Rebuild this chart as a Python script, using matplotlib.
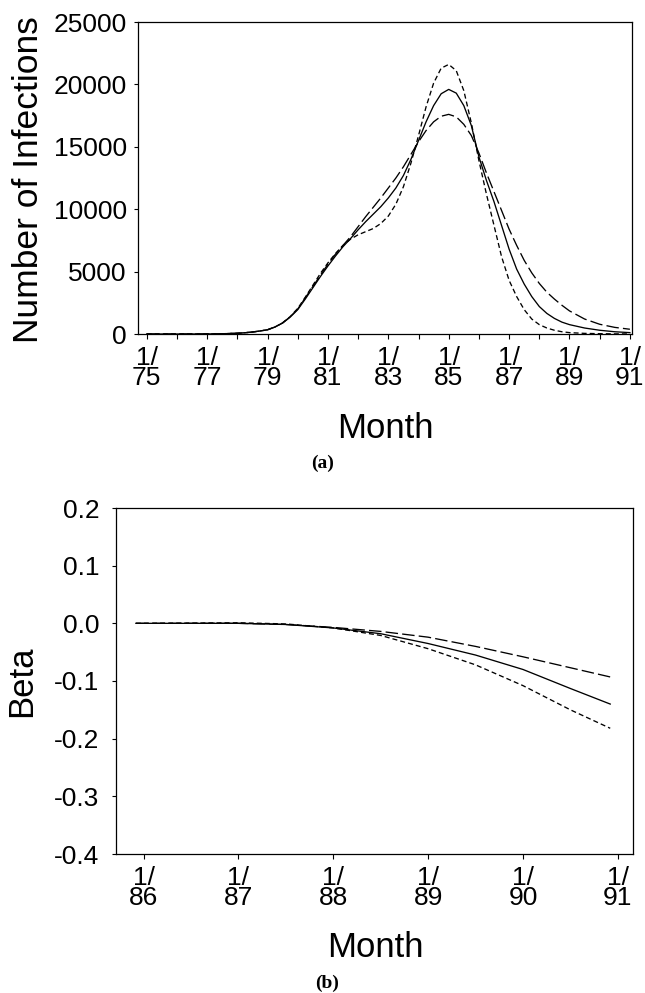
import matplotlib
matplotlib.use("Agg")
import matplotlib.pyplot as plt
from matplotlib.ticker import FixedLocator, FixedFormatter

plt.rcParams['font.family'] = ['Liberation Sans', 'DejaVu Sans']
plt.rcParams['lines.scale_dashes'] = False

# ---------------- data: panel (a) ----------------
years_a = [1975, 1976, 1977, 1977.5, 1978, 1978.25, 1978.5, 1978.75,
           1979, 1979.25, 1979.5, 1979.75, 1980, 1980.25, 1980.5, 1980.75,
           1981, 1981.25, 1981.5, 1981.75, 1982, 1982.25, 1982.5, 1982.75,
           1983, 1983.25, 1983.5, 1983.75, 1984, 1984.25, 1984.5, 1984.75,
           1985, 1985.25, 1985.5, 1985.75, 1986, 1986.25, 1986.5, 1986.75,
           1987, 1987.25, 1987.5, 1987.75, 1988, 1988.25, 1988.5, 1988.75,
           1989, 1989.5, 1990, 1990.5, 1991]
solid_a = [0, 0, 5, 20, 60, 100, 160, 240,
           340, 560, 880, 1350, 1950, 2800, 3700, 4600,
           5450, 6250, 7000, 7650, 8350, 9000, 9600, 10200,
           10900, 11700, 12700, 14000, 15500, 17000, 18300, 19250,
           19600, 19300, 18300, 16700, 14200, 12300, 10600, 8700,
           6800, 5200, 4000, 3000, 2200, 1650, 1250, 950,
           750, 480, 300, 180, 110]
short_a = [0, 0, 5, 20, 60, 100, 160, 240,
           340, 570, 900, 1400, 2050, 2950, 3900, 4850,
           5700, 6450, 7100, 7600, 7950, 8200, 8450, 8850,
           9450, 10400, 11800, 13700, 15900, 18200, 20100, 21300,
           21600, 21100, 19500, 16900, 13900, 11200, 8700, 6200,
           4300, 3000, 1950, 1200, 750, 480, 300, 180,
           110, 50, 25, 10, 5]
long_a = [0, 0, 5, 20, 60, 100, 160, 240,
          340, 565, 890, 1380, 2000, 2900, 3800, 4700,
          5600, 6400, 7100, 7800, 8600, 9400, 10150, 10900,
          11700, 12500, 13400, 14400, 15400, 16300, 17000, 17450,
          17600, 17400, 16800, 15900, 14500, 12900, 11400, 9900,
          8400, 7100, 5900, 4900, 4050, 3350, 2800, 2300,
          1850, 1200, 780, 530, 380]
xticks_a = [1975, 1977, 1979, 1981, 1983, 1985, 1987, 1989, 1991]
xminor_a = [1976, 1978, 1980, 1982, 1984, 1986, 1988, 1990]
xticklabels_a = ['1/\n75', '1/\n77', '1/\n79', '1/\n81', '1/\n83', '1/\n85',
                 '1/\n87', '1/\n89', '1/\n91']
yticks_a = [0, 5000, 10000, 15000, 20000, 25000]
yticklabels_a = ['0', '5000', '10000', '15000', '20000', '25000']

# ---------------- data: panel (b) ----------------
years_b = [1985.92, 1986.5, 1987.0, 1987.5, 1988.0, 1988.5, 1989.0, 1989.5,
           1990.0, 1990.5, 1990.92]
solid_b = [0, 0, 0, -0.002, -0.008, -0.018, -0.035, -0.055, -0.080, -0.113, -0.140]
short_b = [0, 0.0005, 0.001, -0.001, -0.008, -0.021, -0.044, -0.072, -0.108, -0.150, -0.182]
long_b = [0, 0, 0, -0.002, -0.007, -0.014, -0.024, -0.040, -0.058, -0.077, -0.093]
xticks_b = [1986, 1987, 1988, 1989, 1990, 1991]
xticklabels_b = ['1/\n86', '1/\n87', '1/\n88', '1/\n89', '1/\n90', '1/\n91']
yticks_b = [0.2, 0.1, 0.0, -0.1, -0.2, -0.3, -0.4]
yticklabels_b = ['0.2', '0.1', '0.0', '-0.1', '-0.2', '-0.3', '-0.4']

W, H = 645, 993
fig = plt.figure(figsize=(W / 100, H / 100), dpi=100)


def axes_px(l, t, r, b):
    return fig.add_axes([l / W, 1 - b / H, (r - l) / W, (b - t) / H])


def ftext(x, y, s, **kw):
    return fig.text(x / W, 1 - y / H, s, **kw)


SHORT = (0, (3.6, 2.2))
LONG = (0, (9.0, 3.0))
LW = 0.95
TICK_FS = 19


def style(ax, xt, xtl, yt, ytl, ypad):
    for s in ax.spines.values():
        s.set_linewidth(0.9)
        s.set_color('black')
    ax.xaxis.set_major_locator(FixedLocator(xt))
    ax.xaxis.set_major_formatter(FixedFormatter(xtl))
    ax.yaxis.set_major_locator(FixedLocator(yt))
    ax.yaxis.set_major_formatter(FixedFormatter(ytl))
    ax.tick_params(axis='both', which='both', direction='out', width=0.8,
                   colors='black', labelsize=TICK_FS)
    ax.tick_params(axis='x', which='major', length=3.5, pad=5)
    ax.tick_params(axis='x', which='minor', length=3.5)
    ax.tick_params(axis='y', length=3, pad=ypad)
    for lab in ax.get_xticklabels():
        lab.set_linespacing(0.78)
        lab.set_multialignment('center')


# ---------------- panel (a) ----------------
ax1 = axes_px(138, 22, 632, 334)
ax1.plot(years_a, solid_a, color='black', lw=LW, ls='-')
ax1.plot(years_a, short_a, color='black', lw=LW, ls=SHORT)
ax1.plot(years_a, long_a, color='black', lw=LW, ls=LONG)
ax1.set_xlim(1974.71, 1991.07)
ax1.set_ylim(0, 25000)
style(ax1, xticks_a, xticklabels_a, yticks_a, yticklabels_a, 5)
ax1.xaxis.set_minor_locator(FixedLocator(xminor_a))

ftext(29, 180, 'Number of Infections', rotation=90, ha='center', va='center', fontsize=25.5)
ftext(385, 438, 'Month', ha='center', va='baseline', fontsize=25)
ftext(323, 468, '(a)', ha='center', va='baseline', fontsize=14, fontweight='bold',
      family=['Liberation Serif', 'DejaVu Serif'])

# ---------------- panel (b) ----------------
ax2 = axes_px(116, 508, 633, 854)
ax2.plot(years_b, solid_b, color='black', lw=LW, ls='-')
ax2.plot(years_b, short_b, color='black', lw=LW, ls=SHORT)
ax2.plot(years_b, long_b, color='black', lw=LW, ls=LONG)
ax2.set_xlim(1985.71, 1991.16)
ax2.set_ylim(-0.4, 0.2)
style(ax2, xticks_b, xticklabels_b, yticks_b, yticklabels_b, 9)

ftext(22, 681, 'Beta', rotation=90, ha='center', va='center', fontsize=25)
ftext(375, 957, 'Month', ha='center', va='baseline', fontsize=25)
ftext(327, 988, '(b)', ha='center', va='baseline', fontsize=14, fontweight='bold',
      family=['Liberation Serif', 'DejaVu Serif'])

fig.savefig('out.png', dpi=100)
